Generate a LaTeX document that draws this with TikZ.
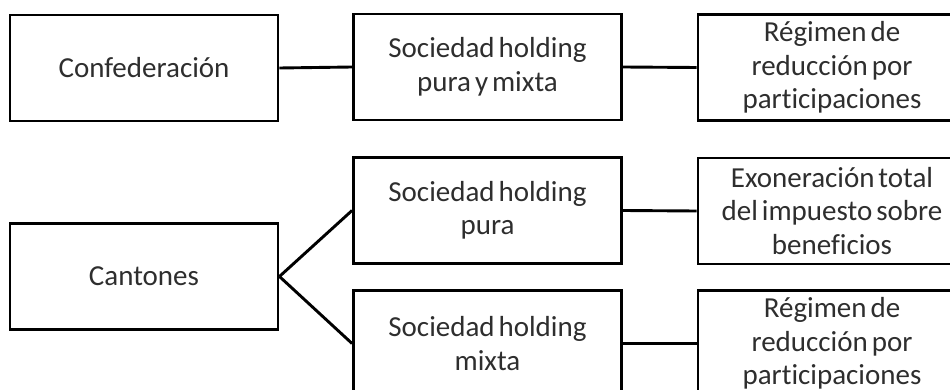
\documentclass[tikz,border=0pt]{standalone}
\usepackage{fontspec}
\setmainfont{Carlito}[RawFeature=-liga, WordSpace={0.6,0.3,0.3}]
\begin{document}
\begin{tikzpicture}[x=1pt,y=-1pt,
  box/.style={draw=black, line width=2.9pt, rectangle, minimum width=268pt,
    minimum height=106pt, align=center, inner sep=0pt,
    font=\fontsize{29}{33.5}\selectfont, text=black!82},
  link/.style={draw=black, line width=2.9pt}]
\useasboundingbox (0,0) rectangle (950,390);
\clip (0,0) rectangle (950,390);

% federal level
\node[box] (conf) at (144,68)   {Confederación};
\node[box] (hpm)  at (487.5,67) {Sociedad holding\\pura y mixta};
\node[box] (reg1) at (832,67.5) {Régimen de\\reducción por\\participaciones};

% cantonal level
\node[box] (cant) at (144,276.5)   {Cantones};
\node[box] (hp)   at (487.5,210.5) {Sociedad holding\\pura};
\node[box] (hm)   at (487.5,343.5) {Sociedad holding\\mixta};
\node[box] (exo)  at (832,211)     {Exoneración total\\del impuesto sobre\\beneficios};
\node[box] (reg2) at (832,343.5)   {Régimen de\\reducción por\\participaciones};

% connectors
\draw[link] (conf.east) -- (hpm.west);
\draw[link] (hpm.east) -- (reg1.west);
\draw[link] (cant.east) -- (hp.west);
\draw[link] (cant.east) -- (hm.west);
\draw[link] (hp.east) -- (exo.west);
\draw[link] (hm.east) -- (reg2.west);
\end{tikzpicture}
\end{document}
